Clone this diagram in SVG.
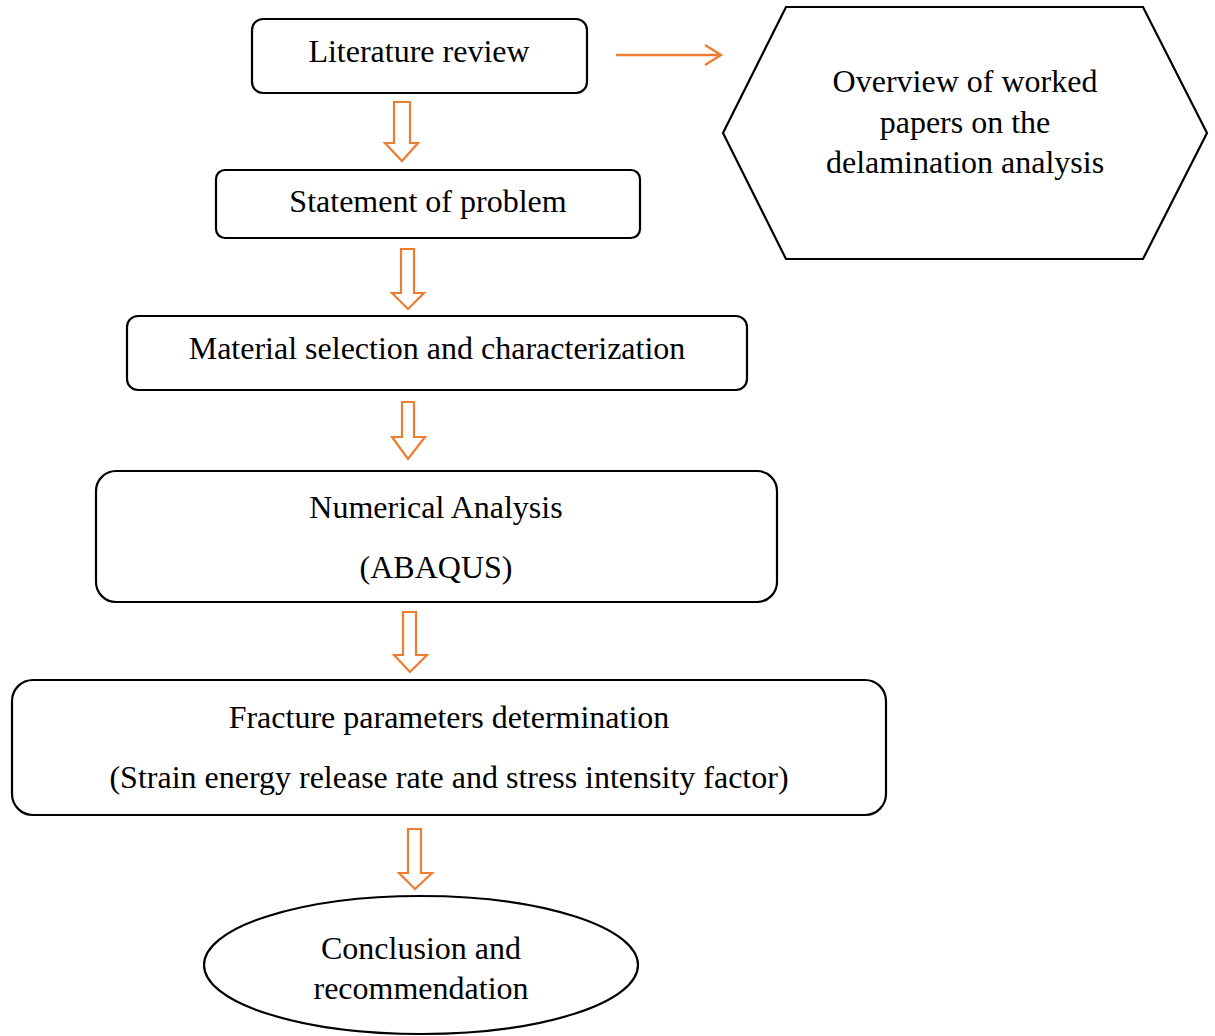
<svg xmlns="http://www.w3.org/2000/svg" width="1215" height="1036" viewBox="0 0 1215 1036">
<style>
.box{fill:#fff;stroke:#000;stroke-width:2.2}
.t{font-family:"Liberation Serif","Times New Roman",serif;font-size:32px;fill:#000;text-anchor:middle}
.ba{fill:#fff;stroke:#ED7D31;stroke-width:2.2;stroke-linejoin:miter}
.ln{fill:none;stroke:#ED7D31;stroke-width:2.4}
</style>
<rect width="1215" height="1036" fill="#fff"/>
<g id="connectors">
<path class="ba" d="M394,102 H410 V143 H418 L402,161 L385,143 H394 Z"/>
<path class="ba" d="M401,249 H414 V293 H424 L408,309 L392,293 H401 Z"/>
<path class="ba" d="M402,402 H414 V437 H425 L408,459 L392,437 H402 Z"/>
<path class="ba" d="M403,612 H416 V655 H427 L410,672 L394,655 H403 Z"/>
<path class="ba" d="M408,829 H421 V873 H432 L415,889 L399,873 H408 Z"/>
<path class="ln" d="M616,55 H720 M705,45 L721,55 L705,65"/>
</g>
<g id="n1">
<rect class="box" x="252" y="19" width="335" height="74" rx="11"/>
<text class="t" x="419" y="62">Literature review</text>
</g>
<g id="n2">
<rect class="box" x="216" y="170" width="424" height="68" rx="9"/>
<text class="t" x="428" y="212">Statement of problem</text>
</g>
<g id="n3">
<rect class="box" x="127" y="316" width="620" height="74" rx="11"/>
<text class="t" x="437" y="359">Material selection and characterization</text>
</g>
<g id="n4">
<rect class="box" x="96" y="471" width="681" height="131" rx="20"/>
<text class="t" x="436" y="518">Numerical Analysis</text>
<text class="t" x="436" y="578">(ABAQUS)</text>
</g>
<g id="n5">
<rect class="box" x="12" y="680" width="874" height="135" rx="21"/>
<text class="t" x="449" y="728">Fracture parameters determination</text>
<text class="t" x="449" y="788">(Strain energy release rate and stress intensity factor)</text>
</g>
<g id="n6">
<ellipse class="box" cx="421" cy="965" rx="217" ry="69"/>
<text class="t" x="421" y="959">Conclusion and</text>
<text class="t" x="421" y="999">recommendation</text>
</g>
<g id="n7">
<polygon class="box" points="786,7 1143,7 1207,133 1143,259 786,259 723,133"/>
<text class="t" x="965" y="92">Overview of worked</text>
<text class="t" x="965" y="133">papers on the</text>
<text class="t" x="965" y="173">delamination analysis</text>
</g>
</svg>
